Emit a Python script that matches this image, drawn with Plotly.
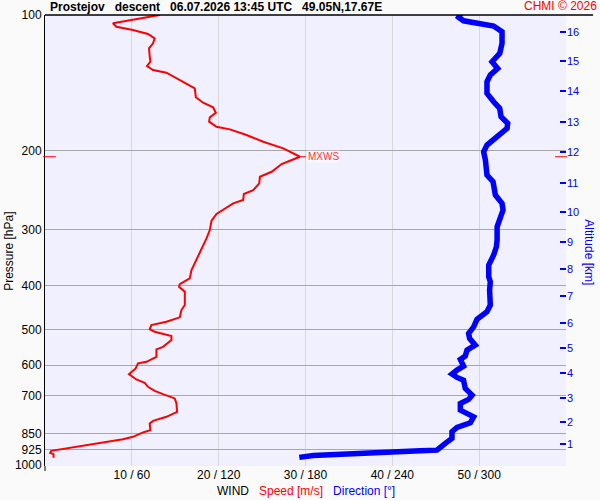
import math
import plotly.graph_objects as go

# ---- data ----
speed_p = [100, 104.3, 106.2, 108.0, 110.2, 112.7, 115.6, 118.6, 123.8, 127.0, 129.8, 132.5, 134.3,
           138.2, 140.7, 145.5, 152.3, 156.6, 160.3, 164.9, 168.8, 172.6, 177.1, 179.5, 184.8, 191.2,
           197.8, 206.5, 210.8, 214.4, 223.0, 228.8, 236.6, 244.9, 249.9, 257.7, 262.1, 269.8, 276.8,
           286.5, 300.5, 313.5, 338.6, 356.4, 368.8, 384.7, 396.1, 401.7, 412.1, 441.0, 452.4, 469.6,
           480.3, 488.5, 499.3, 505.5, 516.8, 527.5, 546.0, 553.3, 574.6, 589.5, 594.3, 609.8, 627.9,
           645.2, 656.5, 669.9, 683.9, 695.5, 711.0, 729.4, 761.5, 781.2, 797.4, 808.0, 836.2, 846.1,
           865.4, 875.7, 887.8, 899.7, 913.7, 923.1, 929.7, 939.3, 945.6, 963.4]
speed_ms = [13.21, 7.82, 8.22, 10.13, 11.86, 12.63, 12.44, 11.98, 12.06, 12.14, 11.75, 12.44, 13.98,
            15.14, 15.90, 17.25, 17.37, 18.21, 19.36, 19.67, 18.98, 18.90, 19.75, 21.29, 23.21, 25.13,
            27.44, 29.36, 28.21, 27.25, 26.10, 24.75, 24.67, 23.98, 22.90, 22.82, 21.67, 20.71, 19.75,
            19.18, 18.98, 18.60, 17.75, 17.25, 16.87, 16.67, 15.52, 15.44, 16.10, 16.10, 15.71, 15.52,
            13.98, 12.25, 12.06, 12.63, 14.56, 14.56, 13.59, 12.83, 12.83, 11.68, 10.71, 10.44, 9.67,
            10.52, 11.48, 11.86, 12.63, 13.59, 14.94, 15.14, 15.21, 13.98, 12.44, 12.06, 12.14, 11.28,
            10.13, 8.98, 7.06, 5.13, 3.21, 1.67, 0.72, 0.60, 0.98, 0.98]

dir_p = [99.3, 101.2, 103.0, 104.3, 105.8, 108.9, 115.6, 121.7, 127.0, 131.4, 135.9, 140.7, 149.3,
         155.9, 161.2, 168.3, 174.1, 178.6, 186.4, 194.5, 201.3, 210.0, 226.8, 234.6, 251.2, 262.1,
         271.3, 283.1, 295.4, 316.2, 327.3, 341.5, 359.4, 381.6, 391.5, 408.5, 441.0, 456.4, 474.5,
         492.9, 509.8, 523.0, 541.3, 555.4, 572.7, 582.5, 602.6, 615.1, 627.9, 638.6, 647.5, 675.6,
         699.1, 714.5, 729.4, 754.8, 781.2, 805.4, 824.6, 843.3, 872.3, 894.9, 913.4, 926.3, 929.6,
         937.3, 945.5, 951.8, 961.4]
dir_deg = [287.4, 285.8, 289.2, 298.5, 310.0, 315.8, 315.8, 314.2, 308.9, 312.8, 307.7, 305.4, 305.4,
           310.0, 314.2, 315.1, 319.7, 319.3, 312.4, 305.4, 303.1, 304.3, 305.4, 309.6, 311.2, 315.8,
           316.5, 314.7, 312.4, 312.4, 311.9, 310.0, 306.6, 306.6, 307.7, 307.2, 307.7, 305.4, 298.5,
           296.2, 292.7, 293.4, 297.3, 291.6, 290.4, 287.0, 289.2, 284.7, 281.2, 284.7, 289.2, 290.4,
           295.1, 292.7, 287.0, 287.0, 296.2, 293.9, 284.7, 281.2, 281.2, 276.6, 273.1, 270.8, 259.3,
           231.6, 203.9, 185.4, 175.7]

p_ticks = [100, 200, 300, 400, 500, 600, 700, 850, 925, 1000]
x_ticks = [10, 20, 30, 40, 50, 60]
x_tick_text = ["10 / 60", "20 / 120", "30 / 180", "40 / 240", "50 / 300", ""]
alt_km = [1, 2, 3, 4, 5, 6, 7, 8, 9, 10, 11, 12, 13, 14, 15, 16]
alt_p = [898.3, 801.3, 708.8, 624.5, 549.5, 482.8, 421.1, 366.7, 319.0, 274.0, 235.8, 201.6,
         172.6, 147.5, 126.5, 108.9]

title_txt = ("Prostejov\u00a0\u00a0 descent\u00a0\u00a0 06.07.2026 13:45 UTC\u00a0\u00a0 49.05N,17.67E")

FONT = "Liberation Sans, Arial, sans-serif"
YR = [3.002, 2.0]

imax = max(range(len(speed_ms)), key=lambda i: speed_ms[i])
s_mx, p_mx = speed_ms[imax], speed_p[imax]

fig = go.Figure()
fig.add_trace(go.Scatter(x=speed_ms, y=speed_p, mode="lines",
                         line=dict(color="#ff0000", width=2), hoverinfo="skip",
                         showlegend=False, xaxis="x", yaxis="y"))
fig.add_trace(go.Scatter(x=dir_deg, y=dir_p, mode="lines", cliponaxis=False,
                         line=dict(color="#0000ff", width=5.5), hoverinfo="skip",
                         showlegend=False, xaxis="x2", yaxis="y2"))

fig.update_layout(
    width=600, height=500,
    margin=dict(l=45, r=34, t=15, b=34, autoexpand=False),
    paper_bgcolor="#fafafa", plot_bgcolor="#f0f0ff",
    font=dict(family=FONT, size=11, color="black"),
    xaxis=dict(range=[0, 60], tickvals=x_ticks, ticktext=x_tick_text, showgrid=True,
               gridcolor="#d8d8d8", gridwidth=1, zeroline=False, showline=False,
               ticks="", automargin=False, tickfont=dict(size=12, color="black")),
    xaxis2=dict(range=[0, 360], overlaying="x", visible=False),
    yaxis=dict(type="log", range=YR, tickvals=p_ticks, ticktext=[str(v) for v in p_ticks],
               showgrid=True, gridcolor="#a8a8a8", gridwidth=1, zeroline=False,
               showline=True, linecolor="black", linewidth=1, ticks="", automargin=False,
               tickfont=dict(size=12, color="black")),
    yaxis2=dict(type="log", range=YR, overlaying="y", side="right", tickvals=alt_p,
                ticktext=[str(v) for v in alt_km], showgrid=False, zeroline=False,
                showline=False, ticks="inside", ticklen=6, tickcolor="#0000ff", tickwidth=1.5,
                automargin=False, tickfont=dict(size=11, color="#0000ff")),
)

shapes = [
    dict(type="line", xref="paper", yref="paper", x0=0, x1=1.052, y0=1, y1=1,
         line=dict(color="black", width=1.5)),
    dict(type="line", xref="paper", yref="paper", x0=0, x1=0, y0=0, y1=-0.011,
         line=dict(color="black", width=1)),
    dict(type="line", xref="paper", yref="y", x0=-0.004, x1=0.021, y0=p_mx, y1=p_mx,
         line=dict(color="#ff0000", width=1)),
    dict(type="line", xref="paper", yref="y", x0=0.979, x1=1.002, y0=p_mx, y1=p_mx,
         line=dict(color="#ff0000", width=1)),
    dict(type="line", xref="x", yref="y", x0=s_mx, x1=s_mx + 0.7, y0=p_mx, y1=p_mx,
         line=dict(color="#ff0000", width=1)),
]
fig.update_layout(shapes=shapes)

ann = [
    dict(text="<b>" + title_txt + "</b>", xref="paper", yref="paper", x=0.006, y=1.0,
         xanchor="left", yanchor="bottom", showarrow=False, yshift=-1,
         font=dict(size=12, color="black")),
    dict(text="CHMI © 2026", xref="paper", yref="paper", x=1.063, y=1.0,
         xanchor="right", yanchor="bottom", showarrow=False, yshift=0,
         font=dict(size=12, color="#ff0000")),
    dict(text="MXWS", xref="x", yref="y", x=s_mx + 0.7, y=math.log10(p_mx), xanchor="left",
         yanchor="middle", showarrow=False, xshift=1, bgcolor="rgba(255,255,255,0.5)",
         borderpad=0, font=dict(size=10, color="#ff3333")),
    dict(text="Pressure [hPa]", xref="paper", yref="paper", x=-0.069, y=0.475,
         xanchor="center", yanchor="middle", showarrow=False, textangle=-90,
         font=dict(size=12, color="black")),
    dict(text="Altitude [km]", xref="paper", yref="paper", x=1.044, y=0.474,
         xanchor="center", yanchor="middle", showarrow=False, textangle=90,
         font=dict(size=12, color="#0000ff")),
    dict(text="WIND\u00a0\u00a0 <span style='color:#ff0000'>Speed [m/s]</span>\u00a0\u00a0 "
              "<span style='color:#0000ff'>Direction [°]</span>",
         xref="paper", yref="paper", x=0.5, y=0, yshift=-25, xanchor="center",
         yanchor="middle", showarrow=False, font=dict(size=12, color="black")),
]
fig.update_layout(annotations=ann)

fig.write_html("out.html", config={"displayModeBar": False},
               post_script="document.body.style.margin='0';document.body.style.overflow='hidden';")
